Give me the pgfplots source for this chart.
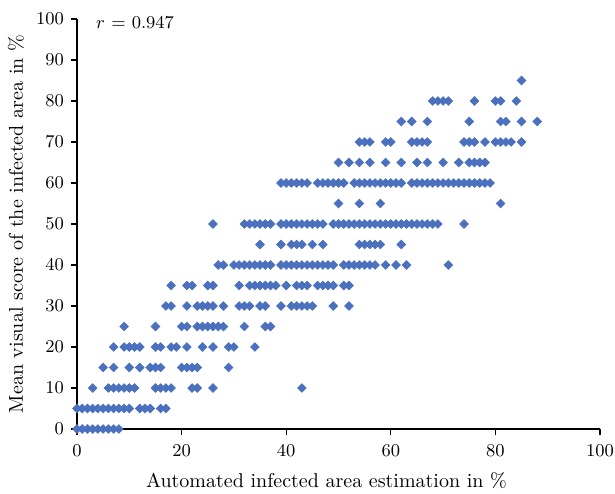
\documentclass[border=0pt]{standalone}
\usepackage{pgfplots}
\pgfplotsset{compat=1.18}
\definecolor{ptblue}{RGB}{74,112,190}

\begin{document}
\begin{tikzpicture}
\useasboundingbox (-38.5pt,-32pt) rectangle (269pt,214.5pt);
\begin{axis}[
  at={(0,0)}, anchor=south west,
  scale only axis, width=261.5pt, height=205pt,
  xmin=0, xmax=100, ymin=0, ymax=100,
  xtick={0,20,...,100}, ytick={0,10,...,100},
  axis lines=left, axis line style={-, black, line width=0.6pt},
  tick style={black, line width=0.6pt}, tick align=outside,
  major tick length=3pt,
  tick label style={font=\fontsize{9}{10}\selectfont},
  xticklabel style={yshift=-1.5pt},
  label style={font=\fontsize{10.5}{12}\selectfont},
  every axis x label/.style={at={(axis description cs:0.5,0)}, anchor=center, yshift=-26pt, xshift=-6pt},
  every axis y label/.style={at={(axis description cs:0,0.5)}, anchor=center, rotate=90, yshift=30.5pt},
  xlabel={Automated infected area estimation in \%},
  ylabel={Mean visual score of the infected area in \%},
  clip=false,
]
\addplot[only marks, mark=square*, mark size=1.5pt, color=ptblue,
  mark options={rotate=45}] coordinates {
 (0,0)(1,0)(2,0)(3,0)(4,0)(5,0)(6,0)(7,0)(8,0)
 (0,5)(1,5)(2,5)(3,5)(4,5)(5,5)(6,5)(7,5)(8,5)(9,5)(10,5)(12,5)(13,5)(14,5)(16,5)(17,5)
 (3,10)(6,10)(7,10)(8,10)(9,10)(10,10)(11,10)(15,10)(16,10)(17,10)(18,10)(22,10)(23,10)(26,10)(43,10)
 (5,15)(7,15)(10,15)(12,15)(14,15)(15,15)(16,15)(20,15)(21,15)(22,15)(23,15)(29,15)
 (7,20)(9,20)(10,20)(11,20)(12,20)(15,20)(16,20)(18,20)(19,20)(21,20)(24,20)(26,20)(29,20)(30,20)(34,20)
 (9,25)(15,25)(20,25)(21,25)(23,25)(24,25)(25,25)(26,25)(27,25)(28,25)(32,25)(36,25)(37,25)
 (17,30)(18,30)(21,30)(23,30)(24,30)(25,30)(26,30)(28,30)(31,30)(32,30)(33,30)(35,30)(36,30)(39,30)(41,30)(42,30)(43,30)(44,30)(45,30)(49,30)(52,30)
 (18,35)(21,35)(22,35)(25,35)(26,35)(31,35)(33,35)(34,35)(35,35)(36,35)(37,35)(38,35)(40,35)(42,35)(43,35)(44,35)(46,35)(47,35)(48,35)(49,35)(51,35)(52,35)
 (27,40)(28,40)(30,40)(31,40)(32,40)(33,40)(34,40)(35,40)(36,40)(37,40)(39,40)(40,40)(41,40)(42,40)(43,40)(44,40)(45,40)(46,40)(47,40)(48,40)(49,40)
 (51,40)(52,40)(53,40)(54,40)(55,40)(56,40)(57,40)(59,40)(61,40)(63,40)(71,40)
 (35,45)(39,45)(41,45)(42,45)(43,45)(45,45)(47,45)(54,45)(55,45)(56,45)(57,45)(58,45)(62,45)
 (26,50)(32,50)(33,50)(34,50)(35,50)(36,50)(37,50)(39,50)(40,50)(41,50)(42,50)(43,50)(44,50)(45,50)(46,50)(47,50)
 (49,50)(50,50)(51,50)(52,50)(53,50)(54,50)(55,50)(56,50)(57,50)(58,50)(59,50)(60,50)(61,50)(62,50)(63,50)(64,50)(65,50)(66,50)(67,50)(68,50)(69,50)(74,50)
 (50,55)(54,55)(58,55)(81,55)
 (39,60)(40,60)(41,60)(42,60)(43,60)(44,60)(46,60)(47,60)(48,60)(49,60)(50,60)(51,60)
 (53,60)(54,60)(55,60)(56,60)(57,60)(58,60)(59,60)(60,60)(61,60)(62,60)
 (64,60)(65,60)(66,60)(67,60)(68,60)(69,60)(70,60)(71,60)(72,60)(73,60)(74,60)(75,60)(76,60)(77,60)(78,60)(79,60)
 (50,65)(52,65)(54,65)(56,65)(59,65)(62,65)(65,65)(67,65)(70,65)(73,65)(75,65)(76,65)(77,65)(78,65)
 (54,70)(55,70)(56,70)(59,70)(60,70)(64,70)(65,70)(66,70)(67,70)(74,70)(75,70)(76,70)(78,70)(80,70)(81,70)(82,70)(83,70)(85,70)
 (62,75)(64,75)(67,75)(75,75)(81,75)(82,75)(85,75)(88,75)
 (68,80)(69,80)(70,80)(71,80)(76,80)(80,80)(81,80)(84,80)
 (85,85)
};
\node[anchor=west, inner sep=0pt, font=\fontsize{9}{10}\selectfont] at (axis cs:3.6,99) {$r$ = 0.947};
\end{axis}
\end{tikzpicture}
\end{document}
